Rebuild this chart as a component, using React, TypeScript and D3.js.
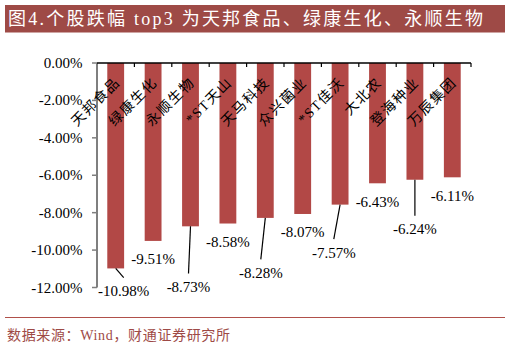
import React from 'react';
import * as d3 from 'd3';

const categories = ['天邦食品', '绿康生化', '永顺生物', '*ST天山', '天马科技', '众兴菌业', '*ST佳沃', '大北农', '登海种业', '万辰集团'];
const values = [-10.98, -9.51, -8.73, -8.58, -8.28, -8.07, -7.57, -6.43, -6.24, -6.11];
const yTicks = [0, -2, -4, -6, -8, -10, -12];
const title = '图4.个股跌幅 top3 为天邦食品、绿康生化、永顺生物';
const source = '数据来源：Wind，财通证券研究所';

// label placement offsets (px, relative to bar bottom centre)
const labelShift: [number, number][] = [
  [8, 22.7], [0, 18.3], [-2, 60.7], [0, 18.3], [-4.5, 55],
  [0, 18.3], [-6.3, 48], [0, 18.3], [0, 49.6], [0, 18.3],
];

const W = 510;
const H = 349;
const serif = '"Liberation Serif", "Times New Roman", "Noto Sans CJK SC", serif';
const cjk = '"Liberation Serif", "Noto Sans CJK SC", serif';

const pct = (v: number) => v.toFixed(2) + '%';

export default function App() {
  const x = d3.scaleBand<string>().domain(categories).range([97, 471]).paddingInner(0.55).paddingOuter(0.275);
  const y = d3.scaleLinear().domain([0, -12]).range([63, 287.5]);
  const bw = x.bandwidth();
  const step = x.step();
  const barColor = '#B24846';

  return (
    <svg width={W} height={H} style={{ position: 'absolute', left: 0, top: 0, background: '#fff' }}>
      <rect x={0} y={0} width={W} height={H} fill="#fff" />
      {/* title bar */}
      <rect x={5} y={5} width={500} height={27.5} fill="#9E4A46" />
      <text x={8} y={19} dominantBaseline="central" fill="#fff" fontSize={18} fontFamily={cjk} textLength={475} lengthAdjust="spacing">
        {title}
      </text>

      {/* bars */}
      {categories.map((c, i) => (
        <rect key={c} x={x(c)} y={y(0)} width={bw} height={y(values[i]) - y(0)} fill={barColor} />
      ))}

      {/* y axis */}
      <line x1={97} x2={97} y1={y(0)} y2={y(-12)} stroke="#7f7f7f" strokeWidth={2} />
      {yTicks.map((t) => (
        <g key={t}>
          <line x1={92} x2={97} y1={y(t)} y2={y(t)} stroke="#7f7f7f" strokeWidth={1.5} />
          <text x={82.5} y={y(t)} dominantBaseline="central" textAnchor="end" fontSize={15} fontFamily={serif} fill="#000">
            {pct(t)}
          </text>
        </g>
      ))}

      {/* x axis line at zero */}
      <line x1={97} x2={471} y1={y(0)} y2={y(0)} stroke="#000" strokeWidth={1.5} />
      {categories.map((c, i) => (
        <line key={'t' + c} x1={97 + step * (i + 1)} x2={97 + step * (i + 1)} y1={y(0)} y2={y(0) + 4} stroke="#000" strokeWidth={1.2} />
      ))}

      {/* category labels */}
      {categories.map((c) => {
        const cx = (x(c) as number) + bw / 2;
        const ax = cx + 2;
        const ay = 80;
        return (
          <text key={'l' + c} x={ax} y={ay} transform={`rotate(-45 ${ax} ${ay})`} textAnchor="end" dominantBaseline="central" fontSize={14} letterSpacing={1.5} fontFamily={cjk} fill="#000">
            {c}
          </text>
        );
      })}

      {/* value labels */}
      {categories.map((c, i) => {
        const cx = (x(c) as number) + bw / 2;
        const by = y(values[i]);
        const [dx, dy] = labelShift[i];
        const lx = cx + dx;
        const ly = by + dy;
        return (
          <g key={'v' + c}>
            {dy > 20 && <line x1={cx} y1={by} x2={lx} y2={ly - 13.5} stroke="#000" strokeWidth={1.2} />}
            <text x={lx} y={ly} textAnchor="middle" dominantBaseline="central" fontSize={15} fontFamily={serif} fill="#000">
              {pct(values[i])}
            </text>
          </g>
        );
      })}

      {/* bottom rule and source */}
      <line x1={5} x2={505} y1={317.5} y2={317.5} stroke="#B0504A" strokeWidth={1} />
      <text x={7} y={335} dominantBaseline="central" fontSize={14} fontFamily={cjk} fill="#9E4A46" textLength={223} lengthAdjust="spacing">
        {source}
      </text>
    </svg>
  );
}
